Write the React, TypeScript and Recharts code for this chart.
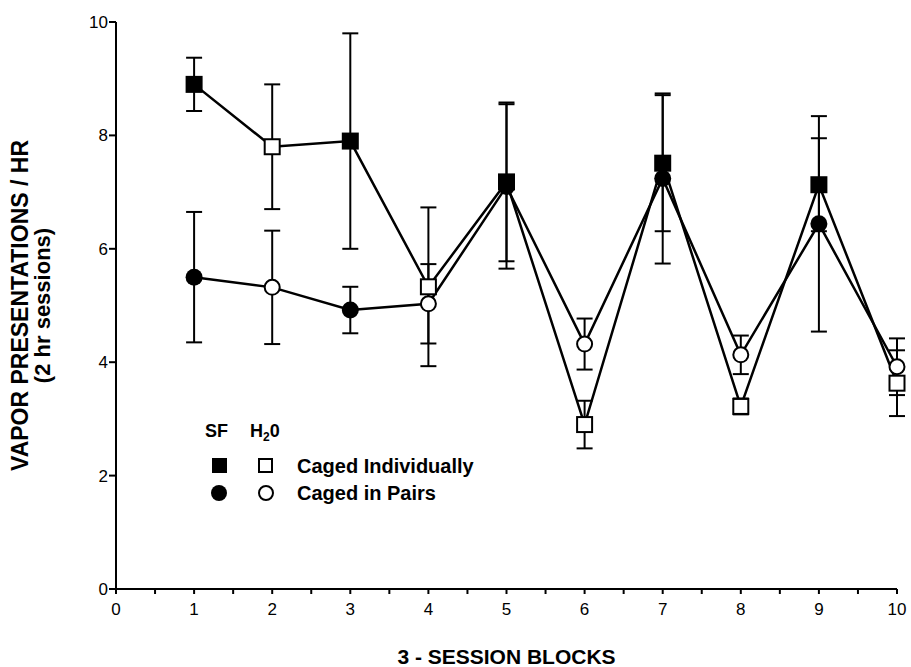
import React from 'react'
import {
  ComposedChart,
  Line,
  XAxis,
  YAxis,
  ErrorBar,
} from 'recharts'

const blocks = [1, 2, 3, 4, 5, 6, 7, 8, 9, 10]
// SF sessions alternate with water (H2O) sessions
const solution = ['SF', 'H2O', 'SF', 'H2O', 'SF', 'H2O', 'SF', 'H2O', 'SF', 'H2O']
const individually = [8.9, 7.8, 7.9, 5.33, 7.18, 2.9, 7.51, 3.22, 7.13, 3.63]
const individuallyErr = [0.47, 1.1, 1.9, 1.4, 1.4, 0.42, 1.2, 0.14, 0.82, 0.58]
const pairs = [5.5, 5.32, 4.92, 5.03, 7.1, 4.32, 7.24, 4.13, 6.44, 3.92]
const pairsErr = [1.15, 1.0, 0.41, 0.7, 1.45, 0.45, 1.5, 0.34, 1.9, 0.5]

const xTicks = [0, 0.5, 1, 1.5, 2, 2.5, 3, 3.5, 4, 4.5, 5, 5.5, 6, 6.5, 7, 7.5, 8, 8.5, 9, 9.5, 10]
const yTicks = [0, 2, 4, 6, 8, 10]

const data = blocks.map((b, i) => ({
  block: b,
  solution: solution[i],
  individually: individually[i],
  individuallyErr: individuallyErr[i],
  pairs: pairs[i],
  pairsErr: pairsErr[i],
}))

const FONT = '"Liberation Sans", Arial, Helvetica, sans-serif'

const SquareDot = (props: any) => {
  const { cx, cy, payload, index } = props
  if (cx == null || cy == null) return null
  const open = payload.solution === 'H2O'
  return open ? (
    <rect key={`sq-${index}`} x={cx - 7.5} y={cy - 7.5} width={15} height={15}
      fill="#fff" stroke="#000" strokeWidth={2} />
  ) : (
    <rect key={`sq-${index}`} x={cx - 8.5} y={cy - 8.5} width={17} height={17} fill="#000" />
  )
}

const CircleDot = (props: any) => {
  const { cx, cy, payload, index } = props
  if (cx == null || cy == null) return null
  const open = payload.solution === 'H2O'
  return open ? (
    <circle key={`ci-${index}`} cx={cx} cy={cy} r={7.5} fill="#fff" stroke="#000" strokeWidth={2} />
  ) : (
    <circle key={`ci-${index}`} cx={cx} cy={cy} r={8.5} fill="#000" />
  )
}

const YLabel = ({ viewBox }: any) => {
  const cy = viewBox ? viewBox.y + viewBox.height / 2 : 300
  return (
    <g fontFamily={FONT} fontWeight="bold" fill="#000">
      <text x={28} y={cy} fontSize={23} textAnchor="middle" transform={`rotate(-90 28 ${cy})`}>
        VAPOR PRESENTATIONS / HR
      </text>
      <text x={50} y={cy} fontSize={22} textAnchor="middle" transform={`rotate(-90 50 ${cy})`}>
        (2 hr sessions)
      </text>
    </g>
  )
}

const XLabel = ({ viewBox }: any) => {
  const cx = viewBox ? viewBox.x + viewBox.width / 2 : 507
  return (
    <text x={cx} y={664} textAnchor="middle" fontFamily={FONT} fontWeight="bold"
      fontSize={21} fill="#000">
      3 - SESSION BLOCKS
    </text>
  )
}

function MarkerLegend() {
  return (
    <svg width={320} height={100} style={{ position: 'absolute', left: 190, top: 410 }}>
      <g fontFamily={FONT} fontWeight="bold" fill="#000">
        <text x={15} y={27} fontSize={18}>SF</text>
        <text x={60} y={27} fontSize={18}>
          H<tspan fontSize={12} dy={4}>2</tspan><tspan dy={-4}>0</tspan>
        </text>
        <rect x={22} y={48} width={15} height={15} fill="#000" />
        <rect x={69} y={49} width={13} height={13} fill="#fff" stroke="#000" strokeWidth={2} />
        <text x={107} y={63} fontSize={20}>Caged Individually</text>
        <circle cx={29} cy={83} r={8} fill="#000" />
        <circle cx={76} cy={83} r={7} fill="#fff" stroke="#000" strokeWidth={2} />
        <text x={107} y={90} fontSize={20}>Caged in Pairs</text>
      </g>
    </svg>
  )
}

export default function App() {
  return (
    <div style={{ position: 'absolute', left: 0, top: 0, width: 911, height: 667, background: '#fff' }}>
      <ComposedChart
        width={911}
        height={667}
        data={data}
        margin={{ top: 22, right: 14, bottom: 48, left: 56 }}
      >
        <XAxis
          dataKey="block"
          type="number"
          domain={[0, 10]}
          ticks={xTicks}
          interval={0}
          tickFormatter={(v: number) => (Number.isInteger(v) ? String(v) : '')}
          tickSize={5}
          tickMargin={9}
          height={30}
          axisLine={{ stroke: '#000', strokeWidth: 2 }}
          tickLine={{ stroke: '#000', strokeWidth: 2 }}
          tick={{ fill: '#000', fontSize: 17, fontFamily: FONT }}
          label={<XLabel />}
        />
        <YAxis
          type="number"
          domain={[0, 10]}
          ticks={yTicks}
          interval={0}
          width={60}
          tickSize={7}
          tickMargin={1}
          axisLine={{ stroke: '#000', strokeWidth: 2 }}
          tickLine={{ stroke: '#000', strokeWidth: 2 }}
          tick={{ fill: '#000', fontSize: 17, fontFamily: FONT }}
          label={<YLabel />}
        />
        <Line
          dataKey="pairs"
          stroke="#000"
          strokeWidth={2.5}
          isAnimationActive={false}
          dot={(p: any) => <CircleDot {...p} />}
          activeDot={false}
        >
          <ErrorBar dataKey="pairsErr" width={8} stroke="#000" strokeWidth={2} direction="y" />
        </Line>
        <Line
          dataKey="individually"
          stroke="#000"
          strokeWidth={2.5}
          isAnimationActive={false}
          dot={(p: any) => <SquareDot {...p} />}
          activeDot={false}
        >
          <ErrorBar dataKey="individuallyErr" width={8} stroke="#000" strokeWidth={2} direction="y" />
        </Line>
      </ComposedChart>
      <MarkerLegend />
    </div>
  )
}
